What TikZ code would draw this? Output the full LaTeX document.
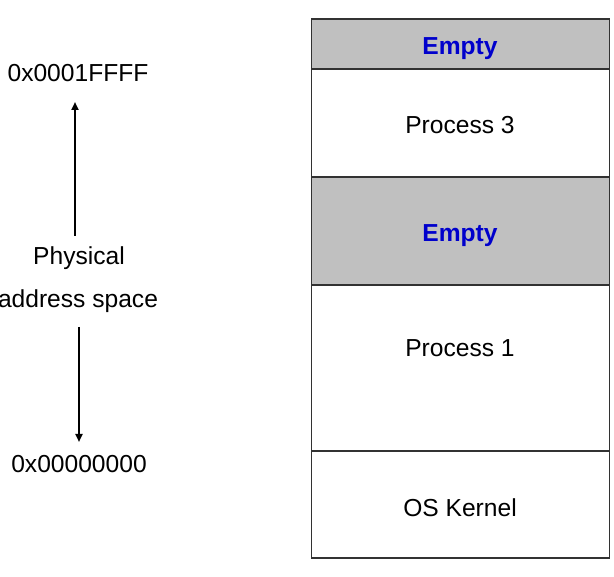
\documentclass[tikz,border=0pt]{standalone}
\usepackage{fontspec}
\setmainfont{Liberation Sans}
\usetikzlibrary{arrows.meta}
\definecolor{cellgray}{RGB}{192,192,192}
\definecolor{emptyblue}{RGB}{0,0,204}
\definecolor{edgegray}{RGB}{50,50,50}
\begin{document}
\begin{tikzpicture}[x=1pt,y=-1pt,
  cell/.style={draw=edgegray,line width=1.2pt,anchor=north west,inner sep=0pt,minimum width=298pt},
  emptycell/.style={cell,fill=cellgray},
  lbl/.style={anchor=base,inner sep=0pt,font=\fontsize{24.6}{29}\selectfont},
  emptylbl/.style={lbl,font=\fontsize{24.6}{29}\selectfont\bfseries,text=emptyblue},
  addrarrow/.style={line width=2pt,-{Triangle[length=8pt,width=7pt]}}]
\useasboundingbox (0,0) rectangle (614,577);
% memory cells
\node[emptycell,minimum height=50pt] (c1) at (310.5,18.5) {};
\node[cell,minimum height=108pt] (c2) at (310.5,68.5) {};
\node[emptycell,minimum height=108pt] (c3) at (310.5,176.5) {};
\node[cell,minimum height=166pt] (c4) at (310.5,284.5) {};
\node[cell,minimum height=107pt] (c5) at (310.5,450.5) {};
% cell labels
\node[emptylbl] (t1) at (460,54.5) {Empty};
\node[lbl] (t2) at (460,134) {Process 3};
\node[emptylbl] (t3) at (460,242) {Empty};
\node[lbl] (t4) at (460,357) {Process 1};
\node[lbl] (t5) at (460,517) {OS Kernel};
% address labels
\node[lbl] (hi) at (78,81.5) {0x0001FFFF};
\node[lbl] (ph) at (79,265) {Physical};
\node[lbl] (as) at (78,308) {address space};
\node[lbl] (lo) at (79,473) {0x00000000};
% arrows
\coordinate (upS) at (75,236);
\coordinate (upE) at (75,102);
\coordinate (dnS) at (79,327);
\coordinate (dnE) at (79,442);
\draw[addrarrow] (upS) -- (upE);
\draw[addrarrow] (dnS) -- (dnE);
\end{tikzpicture}
\end{document}
